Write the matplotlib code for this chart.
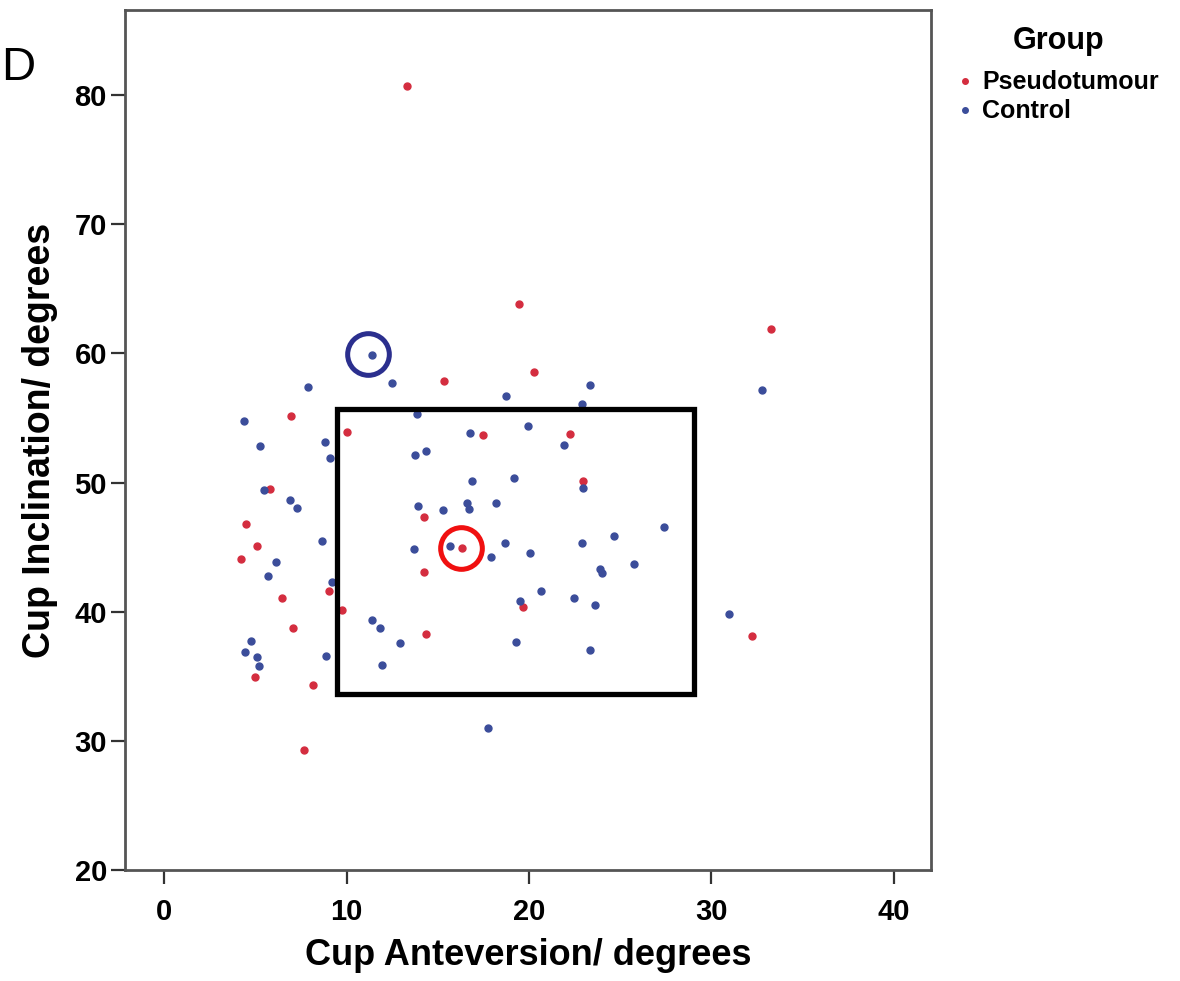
import matplotlib
matplotlib.use("Agg")
import matplotlib.pyplot as plt
from matplotlib.patches import Rectangle

plt.rcParams['font.family'] = ['Liberation Sans', 'DejaVu Sans']

# ---- data (Cup Anteversion, Cup Inclination; degrees) ----
pseudo_x = [13.34, 19.43, 33.25, 15.35, 20.29, 17.46, 22.26, 22.94, 14.25, 6.96,
            10.03, 5.81, 4.48, 5.07, 4.19, 14.22, 9.05, 6.44, 9.73, 7.06,
            4.96, 8.14, 7.68, 14.35, 16.32, 19.65, 32.20]
pseudo_y = [80.68, 63.86, 61.93, 57.90, 58.58, 53.72, 53.79, 50.10, 47.34, 55.19,
            53.90, 49.53, 46.80, 45.12, 44.12, 43.06, 41.62, 41.05, 40.10, 38.73,
            34.94, 34.34, 29.31, 38.25, 44.92, 40.38, 38.09]

control_x = [11.37, 12.50, 7.89, 23.36, 18.75, 22.88, 13.84, 19.96, 16.74, 21.93,
             14.35, 13.74, 19.19, 16.85, 22.94, 13.89, 15.28, 16.58, 16.72, 18.19,
             4.39, 8.81, 5.26, 9.07, 5.48, 6.89, 7.26, 8.63, 6.16, 5.67,
             13.71, 9.21, 11.40, 11.84, 12.91, 11.95, 4.75, 4.42, 5.10, 5.23,
             8.86, 15.66, 18.69, 17.91, 20.05, 22.88, 24.67, 27.41, 23.89, 23.98,
             25.75, 20.65, 19.50, 22.48, 23.63, 19.30, 23.32, 17.78, 32.78, 30.94]
control_y = [59.89, 57.73, 57.39, 57.55, 56.67, 56.11, 55.28, 54.41, 53.82, 52.89,
             52.44, 52.11, 50.36, 50.13, 49.57, 48.20, 47.90, 48.42, 47.95, 48.42,
             54.75, 53.16, 52.85, 51.92, 49.40, 48.62, 48.00, 45.51, 43.86, 42.78,
             44.85, 42.28, 39.38, 38.74, 37.58, 35.87, 37.70, 36.85, 36.48, 35.79,
             36.61, 45.11, 45.30, 44.26, 44.52, 45.32, 45.84, 46.53, 43.33, 43.03,
             43.68, 41.61, 40.85, 41.03, 40.49, 37.65, 37.03, 30.99, 57.20, 39.81]

group_labels = ["Pseudotumour", "Control"]
x_ticks = [0, 10, 20, 30, 40]
y_ticks = [20, 30, 40, 50, 60, 70, 80]

# annotation shapes (data coordinates)
box_x = (9.48, 29.04)
box_y = (33.64, 55.70)
blue_ring = (11.15, 59.95)
red_ring = (16.25, 44.90)

RED = "#D42D3F"
BLUE = "#3B4D9A"

W, H = 1180, 981
fig = plt.figure(figsize=(W / 100, H / 100), dpi=100)
L, R, B, T = 125, 931, 870, 10
ax = fig.add_axes([L / W, 1 - B / H, (R - L) / W, (B - T) / H])

ax.plot(pseudo_x, pseudo_y, 'o', ms=5, color=RED, mec=RED, label=group_labels[0], zorder=3)
ax.plot(control_x, control_y, 'o', ms=5, color=BLUE, mec=BLUE, label=group_labels[1], zorder=3)

ax.set_xlim(-2.14, 42.03)
ax.set_ylim(20, 86.6)
ax.set_xticks(x_ticks)
ax.set_yticks(y_ticks)

for s in ax.spines.values():
    s.set_color('#555555')
    s.set_linewidth(2)
ax.tick_params(axis='both', direction='out', length=10, width=1.6, color='#333333',
               labelsize=21)
ax.tick_params(axis='x', pad=10)
ax.tick_params(axis='y', pad=3)
for lab in ax.get_xticklabels() + ax.get_yticklabels():
    lab.set_fontweight('bold')

ax.set_xlabel("Cup Anteversion/ degrees", fontsize=26, fontweight='bold', labelpad=9)
ax.set_ylabel("Cup Inclination/ degrees", fontsize=27, fontweight='bold', labelpad=12)

rect = Rectangle((box_x[0], box_y[0]), box_x[1] - box_x[0], box_y[1] - box_y[0],
                 fill=False, edgecolor='black', linewidth=3.8, zorder=4)
ax.add_patch(rect)
ax.plot([blue_ring[0]], [blue_ring[1]], 'o', ms=30, mfc='none', mec='#2B2F8E', mew=3.6, zorder=5)
ax.plot([red_ring[0]], [red_ring[1]], 'o', ms=30, mfc='none', mec='#F01010', mew=3.6, zorder=5)

leg = ax.legend(loc='upper left', bbox_to_anchor=(946 / W, 1 - 14 / H),
                bbox_transform=fig.transFigure, frameon=False, fontsize=18,
                title="Group", title_fontsize=22, handlelength=0.5,
                handletextpad=0.45, labelspacing=0.2, borderpad=0, markerscale=0.8)
for t in leg.get_texts():
    t.set_fontweight('bold')
leg.get_title().set_fontweight('bold')
leg._legend_box.sep = 10

fig.text(1 / W, 1 - 80 / H, "D", fontsize=34, ha='left', va='baseline')

fig.savefig("out.png", dpi=100)
